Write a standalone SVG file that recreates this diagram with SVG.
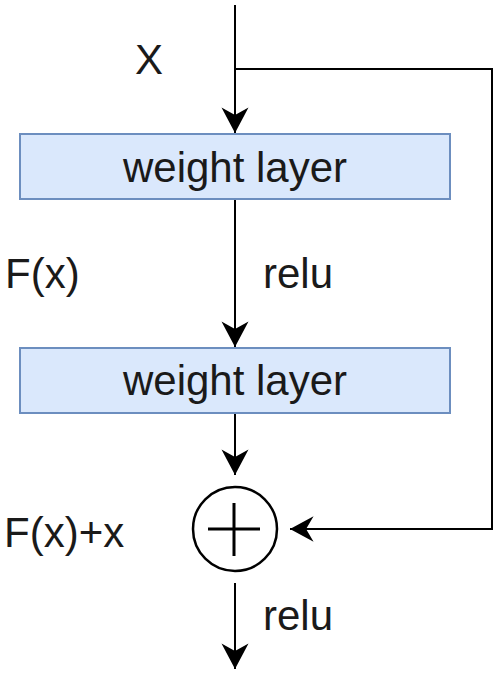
<svg xmlns="http://www.w3.org/2000/svg" width="500" height="675" viewBox="0 0 500 675">
<style>
.box{fill:#dae8fc;stroke:#6c8ebf;stroke-width:2}
.ln{fill:none;stroke:#000;stroke-width:2}
.t{font-family:"Liberation Sans",Arial,sans-serif;font-size:42px;fill:#1a1a1a}
</style>
<defs>
<marker id="ah" markerUnits="userSpaceOnUse" markerWidth="30" markerHeight="30" viewBox="-18 -10 20 20" refX="0" refY="0" orient="auto">
<path d="M0,0 L-17,-9 L-12,0 L-17,9 Z" fill="#000"/>
</marker>
<marker id="ahL" markerUnits="userSpaceOnUse" markerWidth="30" markerHeight="30" viewBox="-24 -14 26 28" refX="0" refY="0" orient="auto">
<path d="M0,0 L-22,-12 L-15,0 L-22,12 Z" fill="#000"/>
</marker>
</defs>
<rect width="500" height="675" fill="#fff"/>
<g id="connectors">
<path class="ln" d="M235,5 L235,133" marker-end="url(#ah)"/>
<path class="ln" d="M235,69 L492,69 L492,529 L290,529" marker-end="url(#ahL)"/>
<path class="ln" d="M235,199 L235,347" marker-end="url(#ah)"/>
<path class="ln" d="M235,413 L235,475" marker-end="url(#ah)"/>
<path class="ln" d="M235,583 L235,669" marker-end="url(#ah)"/>
</g>
<g id="label-x"><text class="t" x="135" y="74">X</text></g>
<g id="weight1">
<rect class="box" x="20" y="134" width="430" height="65"/>
<text class="t" x="235" y="182" text-anchor="middle">weight layer</text>
</g>
<g id="label-fx"><text class="t" x="5" y="288">F(x)</text></g>
<g id="label-relu1"><text class="t" x="263" y="288">relu</text></g>
<g id="weight2">
<rect class="box" x="20" y="348" width="430" height="65"/>
<text class="t" x="235" y="395" text-anchor="middle">weight layer</text>
</g>
<g id="sum">
<circle cx="235" cy="529" r="42" fill="#fff" stroke="#000" stroke-width="2.5"/>
<path d="M208,529 L260,529 M234,503 L234,556" fill="none" stroke="#000" stroke-width="3"/>
</g>
<g id="label-fxx"><text class="t" x="4" y="547">F(x)+x</text></g>
<g id="label-relu2"><text class="t" x="263" y="630">relu</text></g>
</svg>
